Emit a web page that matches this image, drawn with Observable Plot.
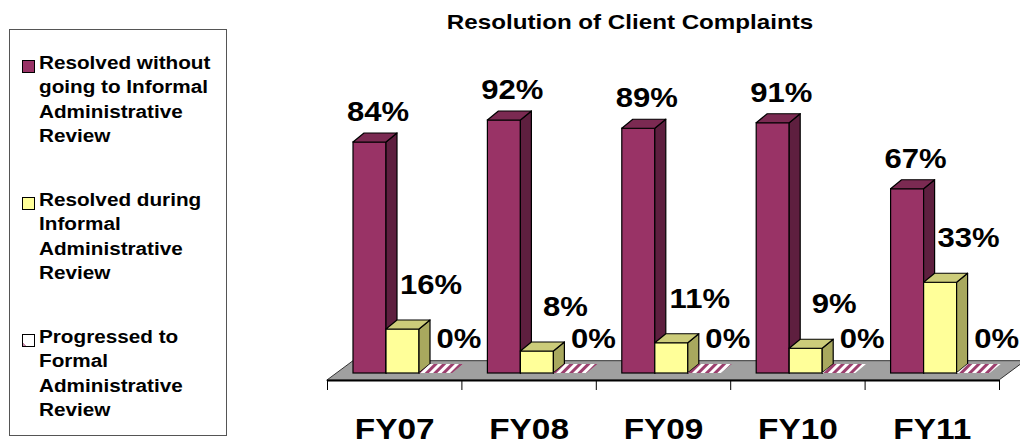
<!DOCTYPE html>
<html>
<head>
<meta charset="utf-8">
<script src="https://cdn.jsdelivr.net/npm/d3@7"></script>
<script src="https://cdn.jsdelivr.net/npm/@observablehq/plot@0.6"></script>
<style>
  body { margin: 0; background: #fff; font-family: "Liberation Sans", Arial, sans-serif; }
  #wrap { position: relative; width: 1020px; height: 445px; overflow: hidden; }
  #chart { position: absolute; left: 0; top: 0; }
  #title {
    position: absolute; left: 630px; top: 11px; white-space: nowrap;
    font-size: 21px; line-height: 21px; font-weight: bold; color: #000;
    transform: translateX(-50%) scaleX(1.15);
  }
  #legend {
    position: absolute; left: 9px; top: 29px; width: 218px; height: 407px;
    box-sizing: border-box; border: 1px solid #555; background: #fff;
  }
  .entry { position: absolute; left: 0; }
  .swatch { position: absolute; left: 12px; width: 13px; height: 13px; box-sizing: border-box; border: 1px solid #000; }
  .label {
    position: absolute; left: 29px; top: 0; white-space: nowrap;
    font-size: 18px; line-height: 24.3px; font-weight: bold; color: #000;
    transform: scaleX(1.15); transform-origin: 0 0;
  }
</style>
</head>
<body>
<div id="wrap">
  <div id="chart"></div>
  <div id="title">Resolution of Client Complaints</div>
  <div id="legend"></div>
</div>
<script>
// Fiscal years on the category axis
const years = ["FY07", "FY08", "FY09", "FY10", "FY11"];

// Share of complaints (%) by outcome
const resolvedWithoutReview = [84, 92, 89, 91, 67];
const resolvedDuringReview  = [16, 8, 11, 9, 33];
const progressedToFormal    = [0, 0, 0, 0, 0];

// Legend text, one line per row
const legendLines = [
  ["Resolved without", "going to Informal", "Administrative", "Review"],
  ["Resolved during", "Informal", "Administrative", "Review"],
  ["Progressed to", "Formal", "Administrative", "Review"]
];

// Face colours (front, side, top) and label offsets per series
const series = [
  {values: resolvedWithoutReview, front: "#993366", side: "#5e1f3f", top: "#7b2a52", dx: 8,  dy: -30},
  {values: resolvedDuringReview,  front: "#ffff99", side: "#a8a85e", top: "#cccc7a", dx: 28, dy: -44},
  {values: progressedToFormal,    front: "url(#hatch)", side: "url(#hatch)", top: "url(#hatch)", dx: 23, dy: -34}
];

// Layout of the pseudo-3D column chart
const W = 1020, H = 445;
const marginLeft = 327, marginRight = 21, marginBottom = 65;
const plotBottom = H - marginBottom;          // front edge of the floor
const pxPerPct = 2.75;                        // vertical pixels per percentage point
const catPx = (W - marginLeft - marginRight) / years.length;
const zeroPx = 7;                             // base of the columns above the floor front edge
const yMin = -zeroPx / pxPerPct;
const yMax = (plotBottom - zeroPx) / pxPerPct;

const barOffset = 26 / catPx;                 // gap before the first column in each category
const barWidth = 33 / catPx;
const depthX = 11 / catPx;                    // receding depth of a column
const depthY = 9 / pxPerPct;
const floorBack = 12.3 / pxPerPct;            // back edge of the floor
const floorShift = 26 / catPx;

// One record per column
const bars = [];
series.forEach((s, k) => {
  s.values.forEach((v, i) => {
    const x1 = i + barOffset + k * barWidth;
    bars.push({k, i, v, x1, x2: x1 + barWidth, cx: x1 + barWidth / 2, key: `${k}-${i}`, s});
  });
});

const fronts = bars.filter(d => d.v > 0);
const sides = fronts.flatMap(d => [
  {key: d.key, x: d.x2, y1: 0, y2: d.v, fill: d.s.side},
  {key: d.key, x: d.x2 + depthX, y1: depthY, y2: d.v + depthY, fill: d.s.side}
]);
const tops = bars.flatMap(d => [
  {key: d.key, y: d.v, x1: d.x1, x2: d.x2, fill: d.s.top, zero: d.v === 0},
  {key: d.key, y: d.v + depthY, x1: d.x1 + depthX, x2: d.x2 + depthX, fill: d.s.top, zero: d.v === 0}
]);
const floor = [
  {y: yMin, x1: 0, x2: years.length},
  {y: floorBack, x1: floorShift, x2: years.length + floorShift}
];

const labelMarks = series.map((s, k) =>
  Plot.text(bars.filter(d => d.k === k), {
    x: "cx", y: "v", text: d => `${d.v}%`,
    dx: s.dx, dy: s.dy, fontSize: 27, fontWeight: "bold", fill: "#000"
  })
);

const chart = Plot.plot({
  width: W,
  height: H,
  marginLeft, marginRight, marginTop: 0, marginBottom,
  style: {fontFamily: "'Liberation Sans', Arial, sans-serif", background: "transparent", color: "#000", overflow: "visible"},
  x: {domain: [0, years.length], axis: null},
  y: {domain: [yMin, yMax], axis: null},
  color: {type: "identity"},
  marks: [
    // floor
    Plot.area(floor, {y1: "y", x1: "x1", x2: "x2", fill: "#a0a0a0", stroke: "#333", strokeWidth: 1}),
    Plot.ruleY([yMin], {x1: 0, x2: years.length, stroke: "#000", strokeWidth: 2}),
    // category boundaries and labels
    Plot.axisX({ticks: d3.range(years.length + 1), tickSize: 10, tickFormat: () => "", stroke: "#000"}),
    Plot.axisX({
      ticks: d3.range(years.length).map(i => i + 0.5), tickSize: 0, tickPadding: 38,
      tickFormat: d => years[Math.floor(d)], fontSize: 29, fontWeight: "bold", fill: "#000"
    }),
    // columns: front, side and top faces, drawn left to right
    ...[0, 1, 2].flatMap(k => [
      Plot.rect(fronts.filter(d => d.k === k), {x1: "x1", x2: "x2", y1: 0, y2: "v", fill: d => d.s.front, stroke: "#000", strokeWidth: 1.2}),
      Plot.area(sides.filter(d => d.key.startsWith(`${k}-`)), {x1: "x", y1: "y1", y2: "y2", z: "key", fill: "fill", stroke: "#000", strokeWidth: 1.2}),
      Plot.area(tops.filter(d => d.key.startsWith(`${k}-`)), {
        y1: "y", x1: "x1", x2: "x2", z: "key", fill: "fill",
        stroke: d => d.zero ? "none" : "#000", strokeWidth: 1.2
      })
    ]),
    ...labelMarks
  ]
});

// stripe pattern for the zero-height series
const defs = d3.select(chart).insert("defs", ":first-child");
const pat = defs.append("pattern")
  .attr("id", "hatch").attr("patternUnits", "userSpaceOnUse")
  .attr("width", 6).attr("height", 6).attr("patternTransform", "rotate(45)");
pat.append("rect").attr("width", 6).attr("height", 6).attr("fill", "#fff");
pat.append("rect").attr("width", 3).attr("height", 6).attr("fill", "#9c3f6e");

// widen the glyphs horizontally around each text anchor
chart.querySelectorAll("text").forEach(t => {
  t.setAttribute("transform", `${t.getAttribute("transform") || ""} scale(1.15,1)`);
});

document.getElementById("chart").appendChild(chart);

// legend
const legend = document.getElementById("legend");
const swatchFills = ["#993366", "#ffff99", "linear-gradient(45deg, #c58aa8 18%, #fff 18%)"];
const entryTops = [21, 158, 295];
legendLines.forEach((lines, k) => {
  const e = document.createElement("div");
  e.className = "entry";
  e.style.top = entryTops[k] + "px";
  const sw = document.createElement("div");
  sw.className = "swatch";
  sw.style.top = "9px";
  sw.style.background = swatchFills[k];
  const lab = document.createElement("div");
  lab.className = "label";
  lab.innerHTML = lines.join("<br>");
  e.appendChild(sw);
  e.appendChild(lab);
  legend.appendChild(e);
});
</script>
</body>
</html>
